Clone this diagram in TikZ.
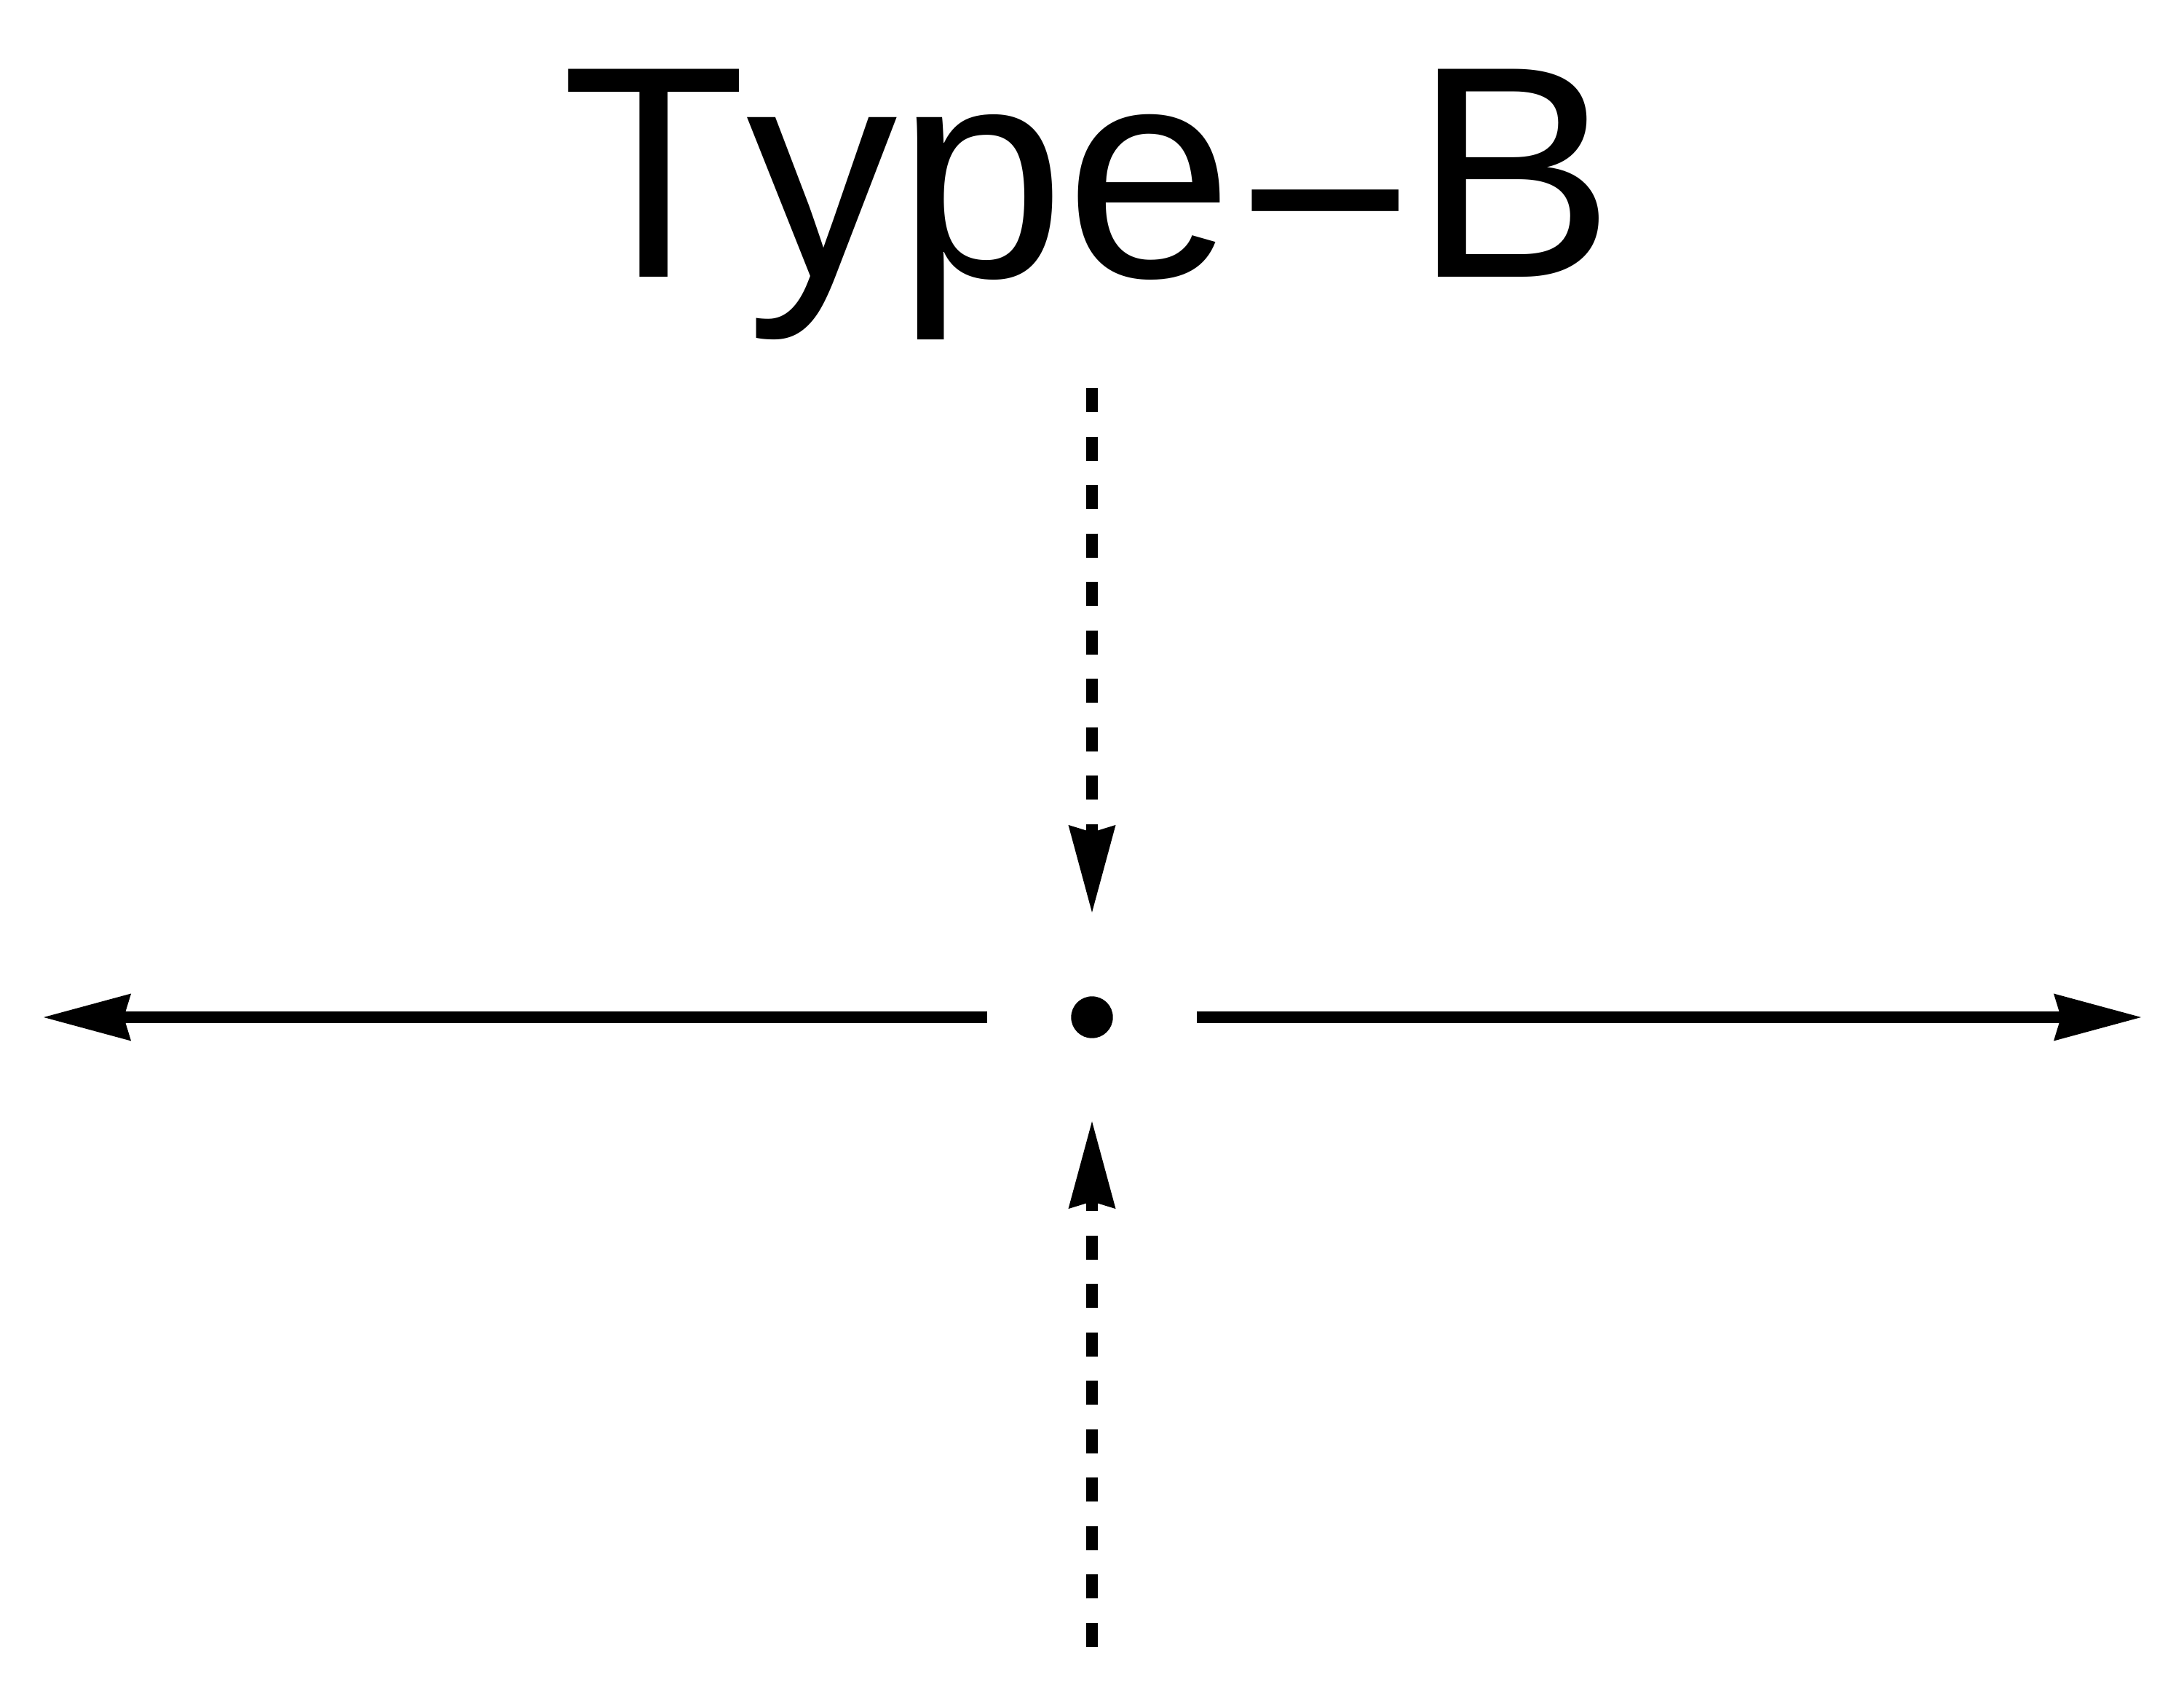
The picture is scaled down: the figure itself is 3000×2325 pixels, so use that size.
\documentclass[tikz,border=0pt]{standalone}
\usepackage{fontspec}
\setmainfont{Liberation Sans}[Kerning=Off]
\usetikzlibrary{arrows.meta}

\begin{document}
\begin{tikzpicture}[x=0.01cm,y=-0.01cm,
  head/.style={-{Stealth[length=1.2cm,width=0.65cm,inset=0.1cm,line width=0pt]}},
  spread/.style={head,line width=0.165cm},
  probe/.style={head,line width=0.165cm,dash pattern=on 0.33cm off 0.335cm}]
\useasboundingbox (0,0) rectangle (3000,2325);
\node[font=\fontsize{118pt}{130pt}\selectfont,anchor=base,inner sep=0pt] (title) at (1495,381) {Type\kern1.5pt\raisebox{-0.32cm}{−}B};
\node[circle,fill,inner sep=0pt,minimum size=0.574cm] (dot) at (1500,1397) {};
% horizontal arrows, out from the dot
\coordinate (w0) at (1356,1397);
\coordinate (w1) at (60,1397);
\coordinate (e0) at (1644,1397);
\coordinate (e1) at (2941,1397);
\draw[spread] (w0) -- (w1);
\draw[spread] (e0) -- (e1);
% dotted arrows, in towards the dot
\coordinate (n0) at (1500,533);
\coordinate (n1) at (1500,1253);
\coordinate (s0) at (1500,2262);
\coordinate (s1) at (1500,1540);
\draw[probe] (n0) -- (n1);
\draw[probe] (s0) -- (s1);
\end{tikzpicture}
\end{document}
